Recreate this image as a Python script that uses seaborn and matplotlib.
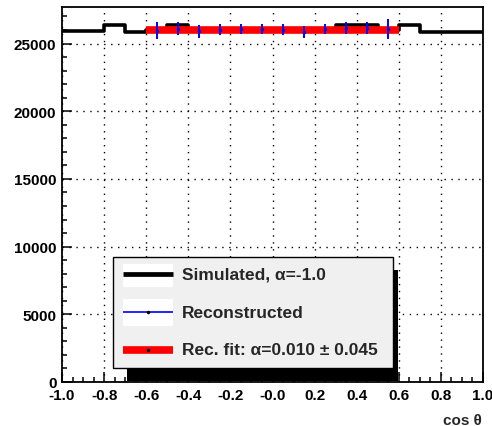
import numpy as np
import pandas as pd
import matplotlib
matplotlib.use("Agg")
import matplotlib.pyplot as plt
import seaborn as sns
from matplotlib.patches import Rectangle
from matplotlib.lines import Line2D
from matplotlib.ticker import MultipleLocator

# ---------------- data ----------------
bin_edges = [-1.0, -0.9, -0.8, -0.7, -0.6, -0.5, -0.4, -0.3, -0.2, -0.1, 0.0,
             0.1, 0.2, 0.3, 0.4, 0.5, 0.6, 0.7, 0.8, 0.9, 1.0]
sim_centers = [-0.95, -0.85, -0.75, -0.65, -0.55, -0.45, -0.35, -0.25, -0.15, -0.05,
               0.05, 0.15, 0.25, 0.35, 0.45, 0.55, 0.65, 0.75, 0.85, 0.95]
sim_values = [25930, 25930, 26350, 25880, 26020, 26350, 25980, 26050, 26000, 26060,
              25990, 26040, 26010, 26350, 26350, 26030, 26350, 25880, 25880, 25880]

rec_centers = [-0.55, -0.45, -0.35, -0.25, -0.15, -0.05, 0.05, 0.15, 0.25, 0.35, 0.45, 0.55]
rec_values = [25963, 26111, 25904, 26015, 26052, 26052, 26030, 25867, 26052, 26125, 26125, 26052]
rec_errors = [650, 500, 465, 405, 370, 370, 400, 430, 370, 440, 440, 740]

fit_x = [-0.6, 0.6]
fit_y = [26010, 26010]

x_ticks = [-1.0, -0.8, -0.6, -0.4, -0.2, 0.0, 0.2, 0.4, 0.6, 0.8, 1.0]
x_ticklabels = ["-1.0", "-0.8", "-0.6", "-0.4", "-0.2", "-0.0", "0.2", "0.4", "0.6", "0.8", "1.0"]
y_ticks = [0, 5000, 10000, 15000, 20000, 25000]
y_ticklabels = ["0", "5000", "10000", "15000", "20000", "25000"]

legend_labels = ["Simulated, \u03b1=-1.0", "Reconstructed", "Rec. fit: \u03b1=0.010 \u00b1 0.045"]

# ---------------- style ----------------
sns.set_style("ticks")
plt.rcParams["font.family"] = ["Liberation Sans", "DejaVu Sans"]
plt.rcParams["font.weight"] = "bold"
plt.rcParams["axes.unicode_minus"] = False

W, H = 492, 427
fig = plt.figure(figsize=(W / 100, H / 100), dpi=100)
L, R, T, B = 62, 483, 8, 383
ax = fig.add_axes([L / W, 1 - B / H, (R - L) / W, (B - T) / H])

sim_df = pd.DataFrame({"cos": sim_centers, "n": sim_values})
sns.histplot(data=sim_df, x="cos", weights="n", bins=bin_edges, element="step",
             fill=False, color="black", linewidth=2.6, ax=ax, zorder=3)

fit_df = pd.DataFrame({"cos": fit_x, "f": fit_y})
sns.lineplot(data=fit_df, x="cos", y="f", color="red", linewidth=5.5, ax=ax, zorder=4,
             solid_capstyle="butt")

ax.errorbar(rec_centers, rec_values, yerr=rec_errors, fmt="o", ms=1.5,
            color="blue", ecolor="blue", elinewidth=1.4, capsize=0, zorder=5)

ax.set_xlim(-1.0, 1.0)
ax.set_ylim(0, 27700)
ax.set_xticks(x_ticks)
ax.set_xticklabels(x_ticklabels)
ax.set_yticks(y_ticks)
ax.set_yticklabels(y_ticklabels)
ax.xaxis.set_minor_locator(MultipleLocator(0.05))
ax.yaxis.set_minor_locator(MultipleLocator(1000))
ax.tick_params(which="both", direction="in", top=False, right=False, width=1.1, colors="black")
ax.tick_params(which="major", length=7, labelsize=11, pad=4)
ax.tick_params(which="minor", length=3.6)
for lab in ax.get_xticklabels() + ax.get_yticklabels():
    lab.set_fontweight("bold")
for s in ax.spines.values():
    s.set_visible(True)
    s.set_linewidth(1.3)
    s.set_color("black")
ax.grid(True, which="major", color="black", linestyle=(0, (1, 4)), linewidth=1.0)
ax.set_axisbelow(False)
ax.set_ylabel("")
ax.set_xlabel("cos \u03b8", fontsize=11, fontweight="bold", ha="right", va="center")
ax.xaxis.set_label_coords((482 - L) / (R - L), (B - 421) / (B - T))

# ---------------- legend (ROOT-style box with shadow) ----------------
def fx(x):
    return x / W

def fy(y):
    return 1 - y / H

tf = fig.transFigure
ax.add_patch(Rectangle((fx(127), fy(382)), fx(398) - fx(127), fy(271) - fy(382),
                       transform=tf, facecolor="black", edgecolor="none", zorder=20, clip_on=False))
ax.add_patch(Rectangle((fx(113), fy(369)), fx(393) - fx(113), fy(258) - fy(369),
                       transform=tf, facecolor="#f0f0f0", edgecolor="black", linewidth=1.0,
                       zorder=21, clip_on=False))
for (y0, y1) in [(265, 288), (300, 327)]:
    ax.add_patch(Rectangle((fx(123), fy(y1)), fx(173) - fx(123), fy(y0) - fy(y1),
                           transform=tf, facecolor="white", edgecolor="none", zorder=22, clip_on=False))

entries = [(275, "black", 3.4), (313, "blue", 1.2), (351, "red", 5.5)]
for (yy, col, lw), lab in zip(entries, legend_labels):
    ax.add_line(Line2D([fx(123), fx(173)], [fy(yy), fy(yy)], transform=tf, color=col,
                       linewidth=lw, zorder=23, clip_on=False, solid_capstyle="butt"))
    if col != "black":
        ax.add_line(Line2D([fx(148)], [fy(yy)], transform=tf, marker="o", ms=1.5, color="black",
                           linestyle="none", zorder=24, clip_on=False))
    ax.text(fx(182), fy(yy), lab, transform=tf, fontsize=12.5, fontweight="bold",
            va="center", ha="left", zorder=24)

fig.savefig("out.png", dpi=100)
